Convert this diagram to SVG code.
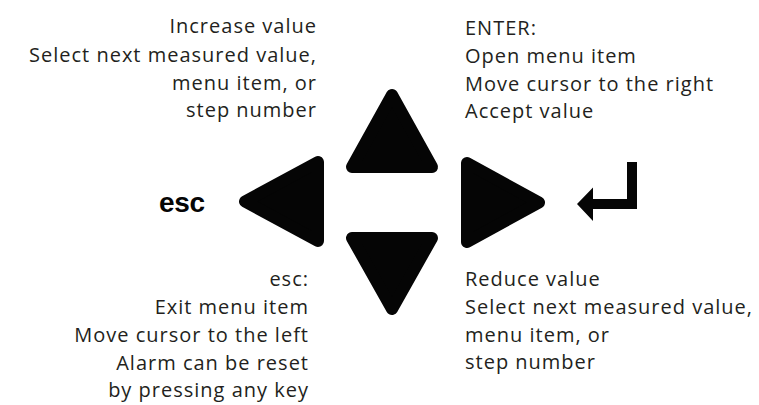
<svg xmlns="http://www.w3.org/2000/svg" width="759" height="405" viewBox="0 0 759 405">
<style>
.t{font-family:"Open Sans","Noto Sans",sans-serif;font-size:20px;letter-spacing:1px;fill:#231f20}
.r{text-anchor:end}
.k{fill:#050505;stroke:#050505;stroke-width:12;stroke-linejoin:round}
.esc{font-family:"Liberation Sans",Arial,sans-serif;font-weight:bold;font-size:28px;fill:#050505;letter-spacing:-0.3px}
</style>
<rect width="759" height="405" fill="#fff"/>
<g id="up">
<polygon class="k" points="392,95 432,167 352,167"/>
<text class="t r" x="317" y="33">Increase value</text>
<text class="t r" x="317" y="62">Select next measured value,</text>
<text class="t r" x="317" y="90">menu item, or</text>
<text class="t r" x="317" y="117">step number</text>
</g>
<g id="down">
<polygon class="k" points="352,238 432,238 392,309"/>
<text class="t" x="465" y="286">Reduce value</text>
<text class="t" x="465" y="314">Select next measured value,</text>
<text class="t" x="465" y="342">menu item, or</text>
<text class="t" x="465" y="369">step number</text>
</g>
<g id="left">
<polygon class="k" points="245,201.5 318,162 318,241"/>
<text class="esc" x="159" y="212">esc</text>
<text class="t r" x="309" y="286">esc:</text>
<text class="t r" x="309" y="314">Exit menu item</text>
<text class="t r" x="309" y="342">Move cursor to the left</text>
<text class="t r" x="309" y="370">Alarm can be reset</text>
<text class="t r" x="309" y="397">by pressing any key</text>
</g>
<g id="right">
<polygon class="k" points="467,163 539,202.5 467,242"/>
<path fill="#050505" d="M637,162 L637,209 L593,209 L593,221 L577,204 L593,187.5 L593,199 L627,199 L627,162 Z"/>
<text class="t" x="465" y="35">ENTER:</text>
<text class="t" x="465" y="63">Open menu item</text>
<text class="t" x="465" y="91">Move cursor to the right</text>
<text class="t" x="465" y="118">Accept value</text>
</g>
<g id="connectors"/>
</svg>
